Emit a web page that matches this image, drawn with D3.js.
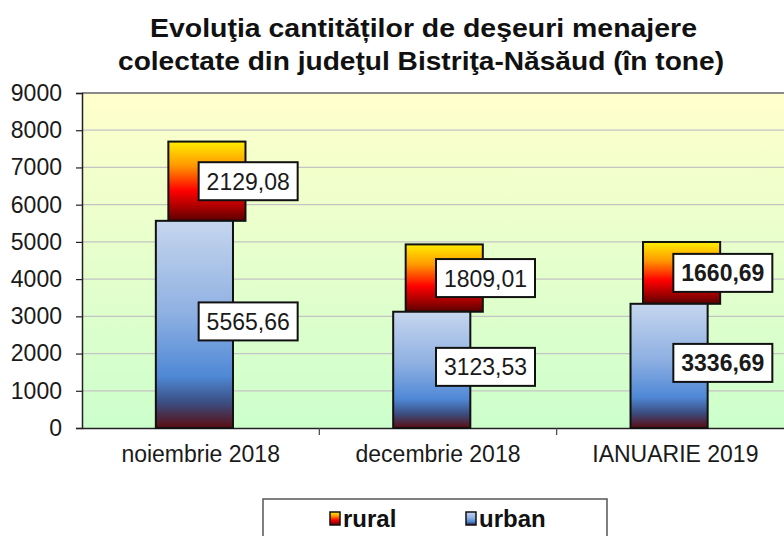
<!DOCTYPE html>
<html>
<head>
<meta charset="utf-8">
<script src="https://cdn.jsdelivr.net/npm/d3@7"></script>
<style>
  body { margin: 0; background: #fff; }
  svg { display: block; font-family: "Liberation Sans", Arial, sans-serif; }
</style>
</head>
<body>
<div id="chart"></div>
<script>
// data
const categories = ['noiembrie 2018', 'decembrie 2018', 'IANUARIE 2019'];
const urban = [5565.66, 3123.53, 3336.69];
const rural = [2129.08, 1809.01, 1660.69];
const yTicks = [0, 1000, 2000, 3000, 4000, 5000, 6000, 7000, 8000, 9000];
const seriesNames = ['rural', 'urban'];
const titleLines = ['Evoluţia cantităților de deşeuri menajere',
                    'colectate din judeţul Bistriţa-Năsăud (în tone)'];

const width = 784, height = 536;
const margin = {top: 93, left: 82, right: -10, bottom: 108};

const svg = d3.select('#chart').append('svg')
  .attr('width', width)
  .attr('height', height);

const defs = svg.append('defs');

function gradient(id, stops) {
  const g = defs.append('linearGradient')
    .attr('id', id)
    .attr('x1', 0).attr('y1', 0).attr('x2', 0).attr('y2', 1);
  stops.forEach(s => g.append('stop').attr('offset', s[0]).attr('stop-color', s[1]));
}
gradient('bg', [[0, '#ffffcc'], [1, '#ccffcc']]);
gradient('gUrban', [[0, '#c6d6ee'], [0.45, '#8eb0e2'], [0.75, '#4f88d6'], [0.88, '#3b4d80'], [1, '#5a0c10']]);
gradient('gRural', [[0, '#ffee00'], [0.3, '#ff9900'], [0.62, '#ff0000'], [0.85, '#a00000'], [1, '#5a0000']]);

const x = d3.scaleBand()
  .domain(categories)
  .range([margin.left, width - margin.right])
  .padding(0);

const y = d3.scaleLinear()
  .domain([0, 9000])
  .range([height - margin.bottom, margin.top]);

const barW = x.bandwidth() * 0.325;
const depth = 12.5;

// plot background
svg.append('rect')
  .attr('x', margin.left).attr('y', y(9000))
  .attr('width', width - margin.right - margin.left)
  .attr('height', y(0) - y(9000))
  .attr('fill', 'url(#bg)');

// gridlines
svg.append('g')
  .selectAll('line')
  .data(yTicks.filter(d => d > 0 && d < 9000))
  .join('line')
  .attr('x1', margin.left).attr('x2', width)
  .attr('y1', d => y(d)).attr('y2', d => y(d))
  .attr('stroke', '#c4c4c4')
  .attr('stroke-width', 1.2);

svg.append('line')
  .attr('x1', margin.left).attr('x2', width)
  .attr('y1', y(9000)).attr('y2', y(9000))
  .attr('stroke', '#8a8a8a')
  .attr('stroke-width', 2);

// y axis
const yAxis = svg.append('g')
  .attr('transform', `translate(${margin.left},0)`)
  .call(d3.axisLeft(y).tickValues(yTicks).tickFormat(d3.format('d')).tickSize(6).tickPadding(14));
yAxis.select('.domain').attr('stroke', '#222').attr('stroke-width', 1.5);
yAxis.selectAll('.tick line').attr('stroke', '#222').attr('stroke-width', 1.2);
yAxis.selectAll('text')
  .attr('font-size', 23)
  .attr('font-family', '"Liberation Sans", Arial, sans-serif')
  .attr('fill', '#1a1a1a');

// x axis
const xAxis = svg.append('g')
  .attr('transform', `translate(0,${y(0)})`)
  .call(d3.axisBottom(x).tickSize(0).tickPadding(18));
xAxis.select('.domain').attr('stroke', '#222').attr('stroke-width', 1.5);
xAxis.selectAll('text')
  .attr('font-size', 23)
  .attr('font-family', '"Liberation Sans", Arial, sans-serif')
  .attr('fill', '#1a1a1a');

// category separator ticks
svg.append('g')
  .selectAll('line')
  .data(categories.slice(1))
  .join('line')
  .attr('x1', d => x(d)).attr('x2', d => x(d))
  .attr('y1', y(0)).attr('y2', y(0) + 7)
  .attr('stroke', '#444')
  .attr('stroke-width', 1.2);

const cx = c => x(c) + x.bandwidth() / 2;

// rural bars (behind, shifted for depth)
svg.append('g')
  .selectAll('rect')
  .data(categories)
  .join('rect')
  .attr('x', (c, i) => cx(c) - barW / 2 + depth / 2)
  .attr('y', (c, i) => y(urban[i] + rural[i]))
  .attr('width', barW)
  .attr('height', (c, i) => y(urban[i]) - y(urban[i] + rural[i]))
  .attr('fill', 'url(#gRural)')
  .attr('stroke', '#111')
  .attr('stroke-width', 2);

// urban bars
svg.append('g')
  .selectAll('rect')
  .data(categories)
  .join('rect')
  .attr('x', c => cx(c) - barW / 2 - depth / 2)
  .attr('y', (c, i) => y(urban[i]))
  .attr('width', barW)
  .attr('height', (c, i) => y(0) - y(urban[i]))
  .attr('fill', 'url(#gUrban)')
  .attr('stroke', '#111')
  .attr('stroke-width', 2);

// value labels
const fmt = d3.formatLocale({decimal: ',', thousands: '', grouping: [3], currency: ['', '']}).format('.2f');
const labels = [];
categories.forEach((c, i) => {
  labels.push({c: c, i: i, v: rural[i], ym: (y(urban[i]) + y(urban[i] + rural[i])) / 2});
  labels.push({c: c, i: i, v: urban[i], ym: (y(0) + y(urban[i])) / 2 - 3});
});

const lab = svg.append('g')
  .selectAll('g')
  .data(labels)
  .join('g')
  .attr('transform', d => `translate(${cx(d.c) - 2},${d.ym})`);

lab.append('rect')
  .attr('x', 0).attr('y', -19)
  .attr('width', 99).attr('height', 38)
  .attr('fill', '#fff')
  .attr('stroke', '#111')
  .attr('stroke-width', 2);

lab.append('text')
  .attr('x', 49.5).attr('y', 8.5)
  .attr('text-anchor', 'middle')
  .attr('font-size', 23)
  .attr('font-weight', d => d.i === categories.length - 1 ? 'bold' : 'normal')
  .attr('fill', '#1a1a1a')
  .text(d => fmt(d.v));

// title
svg.append('g')
  .selectAll('text')
  .data(titleLines)
  .join('text')
  .attr('x', (d, i) => i === 0 ? 423.5 : 421)
  .attr('y', (d, i) => 37 + i * 33)
  .attr('text-anchor', 'middle')
  .attr('font-size', 26)
  .attr('font-weight', 'bold')
  .attr('fill', '#111')
  .attr('textLength', (d, i) => i === 0 ? 547 : 606)
  .attr('lengthAdjust', 'spacingAndGlyphs')
  .text(d => d);

// legend
const legend = svg.append('g');
legend.append('rect')
  .attr('x', 263).attr('y', 499)
  .attr('width', 344).attr('height', 60)
  .attr('fill', '#fff')
  .attr('stroke', '#555')
  .attr('stroke-width', 1.5);

const legendX = d3.scalePoint().domain(seriesNames).range([330, 466]);
const item = legend.selectAll('g')
  .data(seriesNames)
  .join('g')
  .attr('transform', d => `translate(${legendX(d)},512)`);

item.append('rect')
  .attr('width', 10).attr('height', 13)
  .attr('fill', d => d === 'rural' ? 'url(#gRural)' : 'url(#gUrban)')
  .attr('stroke', '#111')
  .attr('stroke-width', 1.5);

item.append('text')
  .attr('x', 13).attr('y', 15)
  .attr('font-size', 24)
  .attr('font-weight', 'bold')
  .attr('fill', '#111')
  .text(d => d);
</script>
</body>
</html>
